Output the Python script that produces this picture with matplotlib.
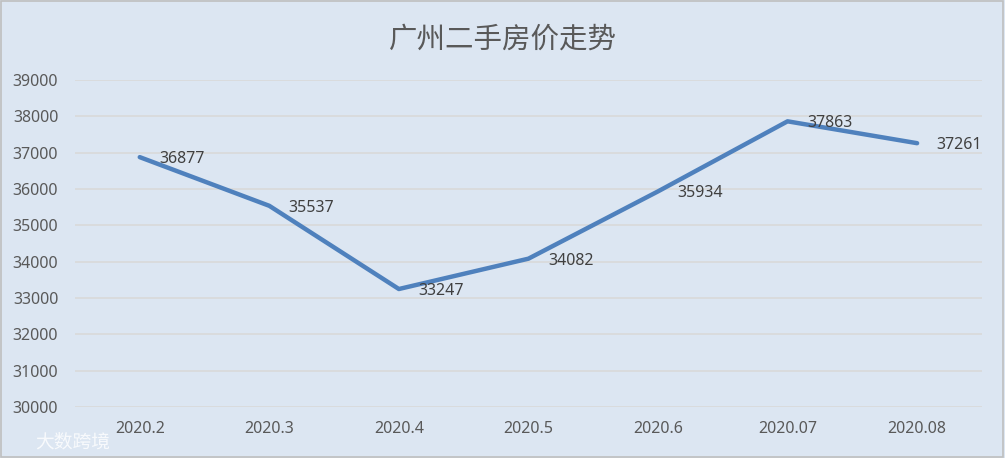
import matplotlib
matplotlib.use("Agg")
import matplotlib.pyplot as plt
from matplotlib.patches import Rectangle

plt.rcParams['font.family'] = ['Noto Sans', 'Noto Sans CJK SC', 'DejaVu Sans']

months = ['2020.2', '2020.3', '2020.4', '2020.5', '2020.6', '2020.07', '2020.08']
prices = [36877, 35537, 33247, 34082, 35934, 37863, 37261]
yticks = [30000, 31000, 32000, 33000, 34000, 35000, 36000, 37000, 38000, 39000]

bg = '#dce6f2'
fig = plt.figure(figsize=(10.05, 4.58), dpi=100, facecolor=bg)
ax = fig.add_axes([0.0746, 0.1114, 0.9024, 0.7139])
ax.set_facecolor(bg)

x = list(range(len(months)))
ax.plot(x, prices, color='#4f81bd', linewidth=3.2, solid_capstyle='round', zorder=3)
for xi, v in zip(x, prices):
    ax.annotate(str(v), (xi, v), xytext=(14, -1.5), textcoords='offset points',
                va='center', ha='left', fontsize=11.5, color='#404040')

ax.set_xlim(-0.5, len(months) - 0.5)
ax.set_ylim(30000, 39000)
ax.set_yticks(yticks)
ax.set_xticks(x)
ax.set_xticklabels(months)
ax.tick_params(length=0, labelsize=11.5, labelcolor='#595959')
ax.tick_params(axis='y', pad=12)
ax.tick_params(axis='x', pad=10)
ax.grid(True, axis='y', color='#d9d9d9', linewidth=1.2)
ax.set_axisbelow(True)
for s in ax.spines.values():
    s.set_visible(False)

fig.text(0.5, 0.914, '广州二手房价走势', ha='center', va='center',
         fontsize=20.5, color='#595959', family=['Noto Sans CJK SC', 'DejaVu Sans'])

# watermark
fig.text(0.072, 0.036, '大数跨境', ha='center', va='center', fontsize=13.5,
         color='white', alpha=0.8, family=['Noto Sans CJK SC', 'DejaVu Sans'])

fig.patches.append(Rectangle((0.001, 0.002), 0.997, 0.995, transform=fig.transFigure,
                             fill=False, edgecolor='#bfbfbf', linewidth=1.2))

fig.savefig('out.png', dpi=100, facecolor=bg)
